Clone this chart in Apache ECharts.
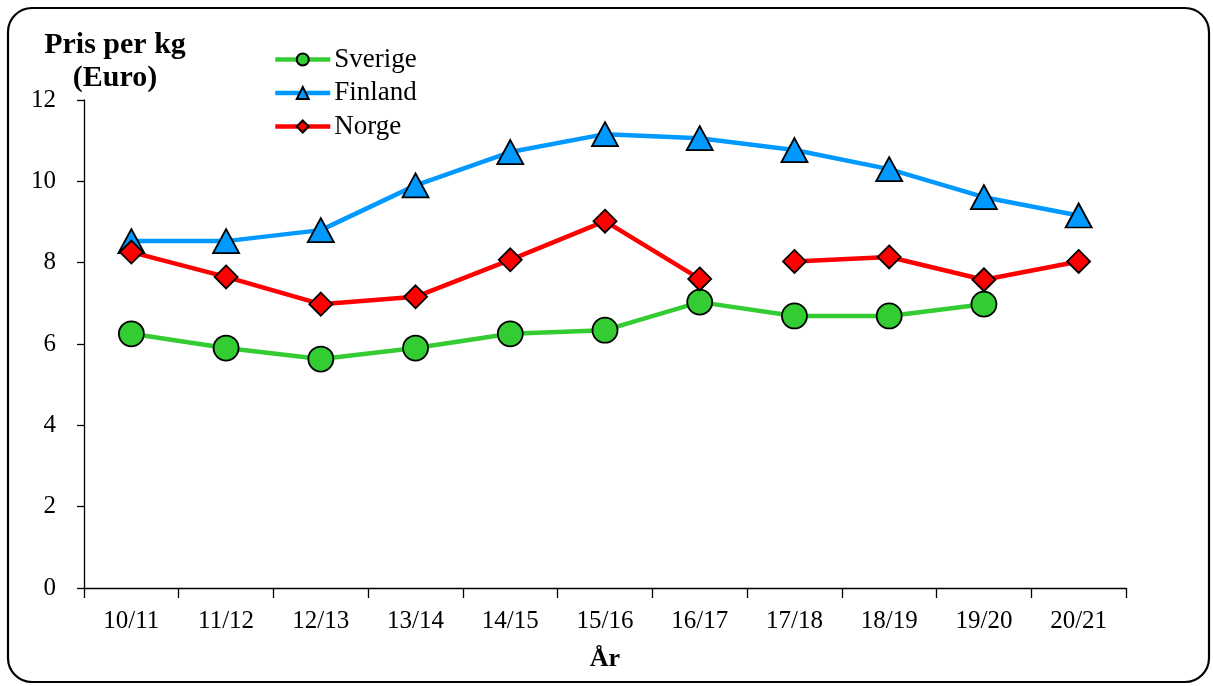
<!DOCTYPE html>
<html>
<head>
<meta charset="utf-8">
<script src="https://cdn.jsdelivr.net/npm/echarts@6/dist/echarts.min.js"></script>
<style>html,body{margin:0;padding:0;background:#fff}#c{width:1213px;height:686px}</style>
</head>
<body>
<div id="c"></div>
<script>
const categories = ['10/11','11/12','12/13','13/14','14/15','15/16','16/17','17/18','18/19','19/20','20/21'];
const sverige = [6.25, 5.9, 5.63, 5.9, 6.25, 6.34, 7.03, 6.69, 6.69, 6.98, null];
const finland = [8.53, 8.53, 8.8, 9.9, 10.72, 11.16, 11.06, 10.77, 10.3, 9.61, 9.16];
const norge = [8.26, 7.65, 6.98, 7.16, 8.07, 9.02, 7.6, 8.03, 8.14, 7.58, 8.03];
const norgeBreakAfter = 6; // no line between 16/17 and 17/18
const yTicks = [0, 2, 4, 6, 8, 10, 12];

const FONT = '"Liberation Serif", "Times New Roman", serif';
const chart = echarts.init(document.getElementById('c'), null, {renderer: 'canvas'});

const norgeA = norge.map((v, i) => i <= norgeBreakAfter ? v : null);
const norgeB = norge.map((v, i) => i > norgeBreakAfter ? v : null);

const mk = (name, data, color, symbol, size) => ({
  name, type: 'line', data, symbol, symbolSize: size,
  showAllSymbol: true, connectNulls: false,
  lineStyle: {color, width: 4.5},
  itemStyle: {color, borderColor: '#000', borderWidth: 1.8},
  emphasis: {disabled: true}, animation: false, z: 3
});

chart.setOption({
  animation: false,
  backgroundColor: '#fff',
  grid: {left: 84, right: 87, top: 100, bottom: 98, containLabel: false},
  legend: {
    orient: 'vertical', left: 273, top: 46, padding: 0, itemGap: 6.5,
    itemWidth: 55, itemHeight: 15,
    lineStyle: {width: 4.5},
    textStyle: {fontFamily: FONT, fontSize: 27, color: '#000', padding: [0,0,0,-1]},
    data: ['Sverige', 'Finland', 'Norge']
  },
  xAxis: {
    type: 'category', data: categories, boundaryGap: true,
    name: 'År', nameLocation: 'middle', nameGap: 58,
    nameTextStyle: {fontFamily: FONT, fontSize: 26, fontWeight: 'bold', color: '#000'},
    axisLine: {lineStyle: {color: '#000', width: 1.3}},
    axisTick: {show: true, alignWithLabel: false, length: 10, lineStyle: {color: '#000', width: 1.3}},
    axisLabel: {fontFamily: FONT, fontSize: 25, color: '#000', margin: 21, interval: 0},
    splitLine: {show: false}
  },
  yAxis: {
    type: 'value', min: yTicks[0], max: yTicks[yTicks.length-1], interval: 2,
    axisLine: {show: true, lineStyle: {color: '#000', width: 1.3}},
    axisTick: {show: true, inside: false, length: 7, lineStyle: {color: '#000', width: 1.3}},
    axisLabel: {fontFamily: FONT, fontSize: 25, color: '#000', margin: 28},
    splitLine: {show: false}
  },
  graphic: [
    {type: 'rect', shape: {x: 8, y: 8, width: 1201, height: 674, r: 24},
     style: {fill: 'none', stroke: '#000', lineWidth: 2.2}, z: 10, silent: true},
    {type: 'text', x: 115, y: 30,
     style: {text: 'Pris per kg', font: 'bold 30px ' + FONT, fill: '#000', textAlign: 'center'}},
    {type: 'text', x: 115, y: 63,
     style: {text: '(Euro)', font: 'bold 30px ' + FONT, fill: '#000', textAlign: 'center'}}
  ],
  series: [
    mk('Sverige', sverige, '#33CC33', 'circle', 25),
    mk('Finland', finland, '#0099FF', 'triangle', [26, 24]),
    mk('Norge', norgeA, '#FF0000', 'diamond', 23),
    mk('Norge', norgeB, '#FF0000', 'diamond', 23)
  ]
});
</script>
</body>
</html>
